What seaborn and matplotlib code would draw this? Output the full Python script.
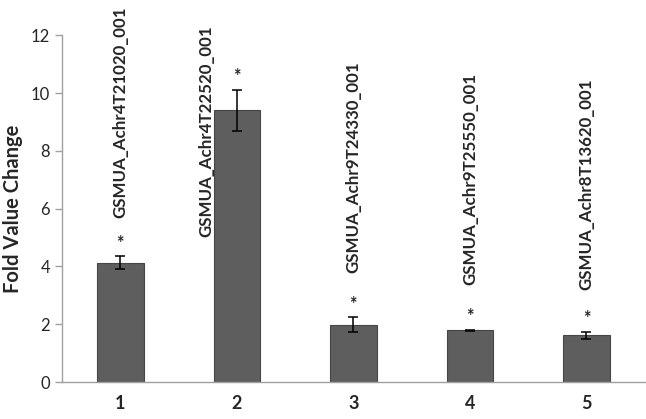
import numpy as np
import pandas as pd
import matplotlib
matplotlib.use("Agg")
import matplotlib.pyplot as plt
import seaborn as sns

# === Data ===
categories = ["1", "2", "3", "4", "5"]
fold_change = [4.13, 9.40, 1.99, 1.79, 1.62]
fold_err = [0.23, 0.72, 0.25, 0.03, 0.13]
gene_names = [
    "GSMUA_Achr4T21020_001",
    "GSMUA_Achr4T22520_001",
    "GSMUA_Achr9T24330_001",
    "GSMUA_Achr9T25550_001",
    "GSMUA_Achr8T13620_001",
]
# where each gene label starts (y, data units) and its sideways shift
label_y = [5.67, 5.02, 3.77, 3.36, 3.18]
label_dx = [0.0, -0.26, 0.0, 0.0, 0.0]
y_ticks = [0, 2, 4, 6, 8, 10, 12]

df = pd.DataFrame({"Sample": categories, "Fold": fold_change, "Err": fold_err})

sns.set_style("white")
plt.rcParams["font.family"] = ["Lato", "DejaVu Sans"]

fig = plt.figure(figsize=(6.46, 4.19), dpi=100)
ax = fig.add_axes([0.096, 0.088, 0.902, 0.828])

sns.barplot(data=df, x="Sample", y="Fold", color="#5e5e5e", width=0.4,
            saturation=1, edgecolor="#464646", linewidth=0.8, errorbar=None, ax=ax)

xs = np.arange(len(categories))
ax.errorbar(xs, df["Fold"], yerr=df["Err"], fmt="none", ecolor="black",
            elinewidth=1.1, capsize=3.5, capthick=1.1)

# stars over the error bars
for x, v, e in zip(xs, fold_change, fold_err):
    ax.annotate("*", (x, v + e), xytext=(0, 3), textcoords="offset points",
                ha="center", va="bottom", fontsize=13, fontweight="bold")

# rotated gene labels
for x, name, ly, dx in zip(xs, gene_names, label_y, label_dx):
    ax.text(x + dx, ly, name, rotation=90, ha="center", va="bottom",
            fontsize=12.2, fontweight="bold", clip_on=False)

# === Axes styling ===
ax.set_ylim(0, 12)
ax.set_xlim(-0.5, len(categories) - 0.5)
ax.set_yticks(y_ticks)
ax.set_yticklabels([str(t) for t in y_ticks], fontsize=12)
ax.set_xticklabels(categories, fontsize=13, fontweight="bold")
ax.set_xlabel("")
ax.set_ylabel("Fold Value Change", fontsize=14.5, fontweight="bold", labelpad=6)

ax.set_xticks(np.arange(-0.5, len(categories)), minor=True)
ax.tick_params(axis="x", which="major", length=0, pad=9)
ax.tick_params(axis="x", which="minor", length=5, color="#a0a0a0", width=1, direction="out")
ax.tick_params(axis="y", length=5, color="#a0a0a0", width=1, direction="out", left=True)

for side in ["top", "right"]:
    ax.spines[side].set_visible(False)
for side in ["left", "bottom"]:
    ax.spines[side].set_color("#a0a0a0")
    ax.spines[side].set_linewidth(1)

plt.savefig("out.png", dpi=100)
